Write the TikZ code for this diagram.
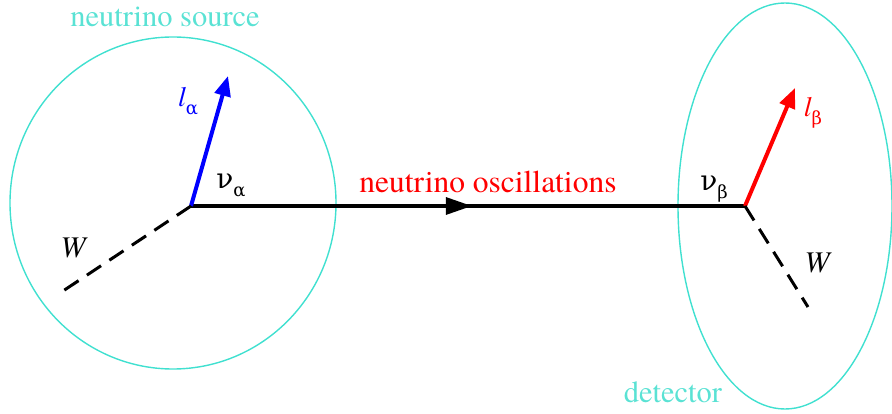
\documentclass[tikz,border=0pt]{standalone}
\usepackage{fontspec}
\setmainfont{texgyretermes}[Extension=.otf,UprightFont=*-regular,ItalicFont=*-italic,BoldFont=*-bold]
\newfontfamily\grk{DejaVu Serif}
\usetikzlibrary{arrows.meta,decorations.markings,shapes.geometric}
\definecolor{turq}{RGB}{64,224,208}
\definecolor{turqtext}{RGB}{90,226,212}
\newcommand{\sublab}[4]{{#1}\raisebox{#3}{\fontsize{#4}{#4}\selectfont\upshape\grk #2}}
\begin{document}
\begin{tikzpicture}[x=1pt,y=-1pt,
  region/.style={draw=turq,line width=1.4pt},
  regionlabel/.style={text=turqtext,font=\fontsize{30.5}{32}\selectfont,anchor=base,inner sep=0pt},
  lab/.style={font=\fontsize{28}{30}\selectfont,inner sep=0pt},
  nuline/.style={line width=3.2pt},
  wline/.style={line width=3pt,dash pattern=on 17pt off 10pt},
  lepton/.style={line width=4pt,-{Triangle[length=20pt,width=16pt]}}]
\useasboundingbox (0,0) rectangle (892,414);
\node[region,ellipse,minimum width=326pt,minimum height=332pt,inner sep=0pt] (src) at (173,203) {};
\node[region,ellipse,minimum width=214pt,minimum height=406pt,inner sep=0pt] (det) at (785,206) {};
\coordinate (va) at (191,206);
\coordinate (vb) at (745,206);
\coordinate (la) at (228,76);
\coordinate (lb) at (795,88);
\coordinate (wa) at (60,293);
\coordinate (wb) at (808,307);
\draw[nuline,postaction={decorate},decoration={markings,mark=at position 0.507 with {\arrow{Triangle[length=26pt,width=17pt]}}}] (va) -- (vb);
\draw[lepton,blue] (va) -- (la);
\draw[lepton,red] (vb) -- (lb);
\draw[wline] (va) -- (wa);
\draw[wline] (vb) -- (wb);
\node[regionlabel] (srclab) at (165,27) {neutrino source};
\node[regionlabel] (detlab) at (673,402) {detector};
\node[anchor=base,inner sep=0pt,text=red,font=\fontsize{31.5}{33}\selectfont] (osc) at (488,193) {neutrino oscillations};
\node[lab,text=blue] (lalab) at (188,101) {\sublab{\itshape l}{α}{-8pt}{18}};
\node[lab,text=red] (lblab) at (813,113) {\sublab{\itshape l}{β}{-8pt}{18}};
\node[lab] (nualab) at (231,186) {\sublab{\grk ν}{α}{-8pt}{18}};
\node[lab] (nublab) at (714,189) {\sublab{\grk ν}{β}{-8pt}{18}};
\node[lab,font=\fontsize{30}{32}\selectfont\itshape] (wal) at (73,248) {W};
\node[lab,font=\fontsize{30}{32}\selectfont\itshape] (wbl) at (817,263) {W};
\end{tikzpicture}
\end{document}
